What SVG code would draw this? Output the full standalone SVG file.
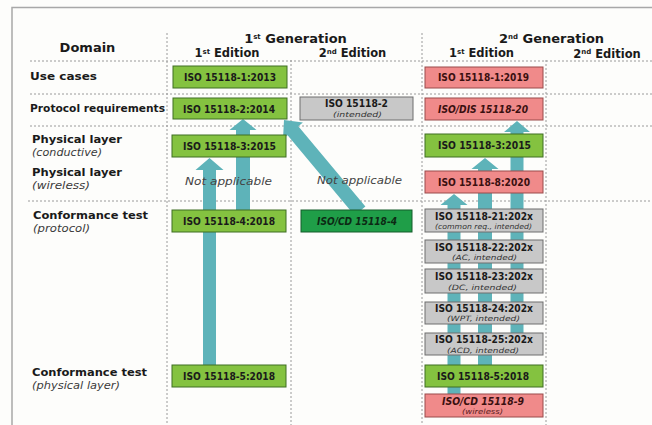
<svg xmlns="http://www.w3.org/2000/svg" width="652" height="425" viewBox="0 0 652 425">
<style>
text{font-family:"DejaVu Sans","Liberation Sans",sans-serif;fill:#1a1a1a}
.hd{font-weight:bold;font-size:13px;text-anchor:middle}
.ed{font-weight:bold;font-size:11.5px;text-anchor:middle}
.sup{font-size:7px}
.lab{font-weight:bold;font-size:10.8px}
.sub{font-style:italic;font-size:10.5px;fill:#3a3a3a}
.na{font-style:italic;font-size:11px;fill:#444;text-anchor:middle}
.bt{font-weight:bold;font-size:10px;text-anchor:middle}
.bi{font-weight:bold;font-style:italic;font-size:10px;text-anchor:middle}
.st{font-style:italic;font-size:7.3px;text-anchor:middle;fill:#333}
.red text{fill:#3a1010}
.dot{stroke:#9a9a9a;stroke-width:1;stroke-dasharray:2 2;fill:none}
.g{fill:#84c240;stroke:#3f6e22;stroke-width:1}
.r{fill:#f08a8a;stroke:#9a4a4a;stroke-width:1}
.y{fill:#c8c8c8;stroke:#6e6e6e;stroke-width:1}
.dg{fill:#1f9e48;stroke:#145c2a;stroke-width:1}
.arr{fill:#5eb3b9}
</style>
<rect x="0" y="0" width="652" height="425" fill="#fdfdfb"/>
<path d="M12 425 V7.5 H652" fill="none" stroke="#a8a8a8" stroke-width="1.5"/>
<g id="grid">
<line class="dot" x1="167" y1="33" x2="167" y2="425"/>
<line class="dot" x1="291" y1="60" x2="291" y2="425"/>
<line class="dot" x1="422" y1="33" x2="422" y2="425"/>
<line class="dot" x1="546" y1="60" x2="546" y2="425"/>
<line class="dot" x1="30" y1="61" x2="652" y2="61"/>
<line class="dot" x1="30" y1="94" x2="652" y2="94"/>
<line class="dot" x1="30" y1="126" x2="652" y2="126"/>
<line class="dot" x1="28" y1="201" x2="652" y2="201"/>
</g>
<g id="headers">
<text class="hd" x="87.5" y="52" font-size="14">Domain</text>
<text class="hd" x="295.5" y="43">1<tspan class="sup" dy="-4">st</tspan><tspan dy="4"> Generation</tspan></text>
<text class="ed" x="227" y="57">1<tspan class="sup" dy="-3.5">st</tspan><tspan dy="3.5"> Edition</tspan></text>
<text class="ed" x="352.5" y="57">2<tspan class="sup" dy="-3.5">nd</tspan><tspan dy="3.5"> Edition</tspan></text>
<text class="hd" x="551.5" y="43">2<tspan class="sup" dy="-4">nd</tspan><tspan dy="4"> Generation</tspan></text>
<text class="ed" x="481.5" y="57">1<tspan class="sup" dy="-3.5">st</tspan><tspan dy="3.5"> Edition</tspan></text>
<text class="ed" x="607" y="57.5">2<tspan class="sup" dy="-3.5">nd</tspan><tspan dy="3.5"> Edition</tspan></text>
</g>
<g id="row-labels">
<text class="lab" x="30" y="80" textLength="67" lengthAdjust="spacingAndGlyphs">Use cases</text>
<text class="lab" x="30" y="112" textLength="135" lengthAdjust="spacingAndGlyphs">Protocol requirements</text>
<text class="lab" x="32" y="143" textLength="90" lengthAdjust="spacingAndGlyphs">Physical layer</text>
<text class="sub" x="32" y="156" textLength="70" lengthAdjust="spacingAndGlyphs">(conductive)</text>
<text class="lab" x="32" y="176" textLength="90" lengthAdjust="spacingAndGlyphs">Physical layer</text>
<text class="sub" x="32" y="189" textLength="58" lengthAdjust="spacingAndGlyphs">(wireless)</text>
<text class="lab" x="33" y="219" textLength="115" lengthAdjust="spacingAndGlyphs">Conformance test</text>
<text class="sub" x="33" y="232" textLength="57" lengthAdjust="spacingAndGlyphs">(protocol)</text>
<text class="lab" x="32" y="376" textLength="115" lengthAdjust="spacingAndGlyphs">Conformance test</text>
<text class="sub" x="32" y="389" textLength="88" lengthAdjust="spacingAndGlyphs">(physical layer)</text>
</g>
<g id="connectors">
<polygon class="arr" points="209.5,158 223.5,170 216,170 216,365 203,365 203,170 195.5,170"/>
<polygon class="arr" points="243,119 256.5,130 250,130 250,210 236,210 236,130 229.5,130"/>
<polygon class="arr" points="284,120 302.9,122.4 298.3,126.3 365.4,206.5 354.6,215.5 287.6,135.2 283,139.1"/>
<polygon class="arr" points="454,194 467.5,205 460.5,205 460.5,394 447.5,394 447.5,205 440.5,205"/>
<polygon class="arr" points="485,158 498.5,169 492,169 492,365 478,365 478,169 471.5,169"/>
<polygon class="arr" points="517,121 530,132 523.5,132 523.5,333 510.5,333 510.5,132 504,132"/>
</g>
<g id="not-applicable">
<text class="na" x="228.5" y="185" textLength="87" lengthAdjust="spacingAndGlyphs">Not applicable</text>
<text class="na" x="359.5" y="184" textLength="85" lengthAdjust="spacingAndGlyphs">Not applicable</text>
</g>
<g id="n-iso1-2013"><rect class="g" x="173" y="66" width="114" height="22"/><text class="bt" x="230" y="81" textLength="92" lengthAdjust="spacingAndGlyphs">ISO 15118-1:2013</text></g>
<g id="n-iso2-2014"><rect class="g" x="173" y="98" width="114" height="21"/><text class="bt" x="229" y="112.5" textLength="92" lengthAdjust="spacingAndGlyphs">ISO 15118-2:2014</text></g>
<g id="n-iso3-2015a"><rect class="g" x="172" y="135" width="114" height="22"/><text class="bt" x="229.5" y="149.5" textLength="93" lengthAdjust="spacingAndGlyphs">ISO 15118-3:2015</text></g>
<g id="n-iso4-2018"><rect class="g" x="172" y="210" width="114" height="22"/><text class="bt" x="229" y="225" textLength="92" lengthAdjust="spacingAndGlyphs">ISO 15118-4:2018</text></g>
<g id="n-iso5-2018a"><rect class="g" x="172" y="365" width="114" height="22"/><text class="bt" x="229" y="380" textLength="92" lengthAdjust="spacingAndGlyphs">ISO 15118-5:2018</text></g>
<g id="n-iso2-int"><rect class="y" x="300" y="97" width="113" height="23"/><text class="bt" x="356.5" y="107" textLength="63" lengthAdjust="spacingAndGlyphs">ISO 15118-2</text><text class="st" x="357.5" y="116.5" textLength="49" lengthAdjust="spacingAndGlyphs">(intended)</text></g>
<g id="n-isocd4"><rect class="dg" x="301" y="210" width="111" height="22"/><text class="bi" x="357" y="225" textLength="80" lengthAdjust="spacingAndGlyphs" style="fill:#0c2a14">ISO/CD 15118-4</text></g>
<g class="red">
<g id="n-iso1-2019"><rect class="r" x="425" y="67" width="118" height="21"/><text class="bt" x="483.5" y="81" textLength="91" lengthAdjust="spacingAndGlyphs">ISO 15118-1:2019</text></g>
<g id="n-isodis20"><rect class="r" x="425" y="98" width="118" height="22"/><text class="bi" x="483" y="113" textLength="90" lengthAdjust="spacingAndGlyphs">ISO/DIS 15118-20</text></g>
<g id="n-iso8-2020"><rect class="r" x="425" y="171" width="118" height="22"/><text class="bt" x="484" y="186" textLength="92" lengthAdjust="spacingAndGlyphs">ISO 15118-8:2020</text></g>
<g id="n-isocd9"><rect class="r" x="425" y="394" width="118" height="23"/><text class="bi" x="483" y="405" textLength="82" lengthAdjust="spacingAndGlyphs">ISO/CD 15118-9</text><text class="st" x="482.5" y="414" textLength="41" lengthAdjust="spacingAndGlyphs" style="fill:#5a2020">(wireless)</text></g>
</g>
<g id="n-iso3-2015b"><rect class="g" x="425" y="134" width="118" height="23"/><text class="bt" x="484.5" y="149" textLength="93" lengthAdjust="spacingAndGlyphs">ISO 15118-3:2015</text></g>
<g id="n-iso21"><rect class="y" x="425" y="209" width="118" height="23"/><text class="bt" x="484" y="219.5" textLength="98" lengthAdjust="spacingAndGlyphs">ISO 15118-21:202x</text><text class="st" x="483.5" y="229" textLength="97" lengthAdjust="spacingAndGlyphs">(common req., intended)</text></g>
<g id="n-iso22"><rect class="y" x="425" y="240" width="118" height="23"/><text class="bt" x="484" y="250.5" textLength="98" lengthAdjust="spacingAndGlyphs">ISO 15118-22:202x</text><text class="st" x="484.5" y="260" textLength="65" lengthAdjust="spacingAndGlyphs">(AC, intended)</text></g>
<g id="n-iso23"><rect class="y" x="425" y="269" width="118" height="24"/><text class="bt" x="484" y="280" textLength="98" lengthAdjust="spacingAndGlyphs">ISO 15118-23:202x</text><text class="st" x="482.5" y="289.5" textLength="69" lengthAdjust="spacingAndGlyphs">(DC, intended)</text></g>
<g id="n-iso24"><rect class="y" x="425" y="302" width="118" height="22"/><text class="bt" x="484" y="311.5" textLength="98" lengthAdjust="spacingAndGlyphs">ISO 15118-24:202x</text><text class="st" x="483.5" y="321" textLength="73" lengthAdjust="spacingAndGlyphs">(WPT, intended)</text></g>
<g id="n-iso25"><rect class="y" x="425" y="333" width="118" height="22"/><text class="bt" x="484" y="343" textLength="98" lengthAdjust="spacingAndGlyphs">ISO 15118-25:202x</text><text class="st" x="483" y="352.5" textLength="72" lengthAdjust="spacingAndGlyphs">(ACD, intended)</text></g>
<g id="n-iso5-2018b"><rect class="g" x="425" y="365" width="118" height="22"/><text class="bt" x="483" y="380" textLength="92" lengthAdjust="spacingAndGlyphs">ISO 15118-5:2018</text></g>
</svg>
